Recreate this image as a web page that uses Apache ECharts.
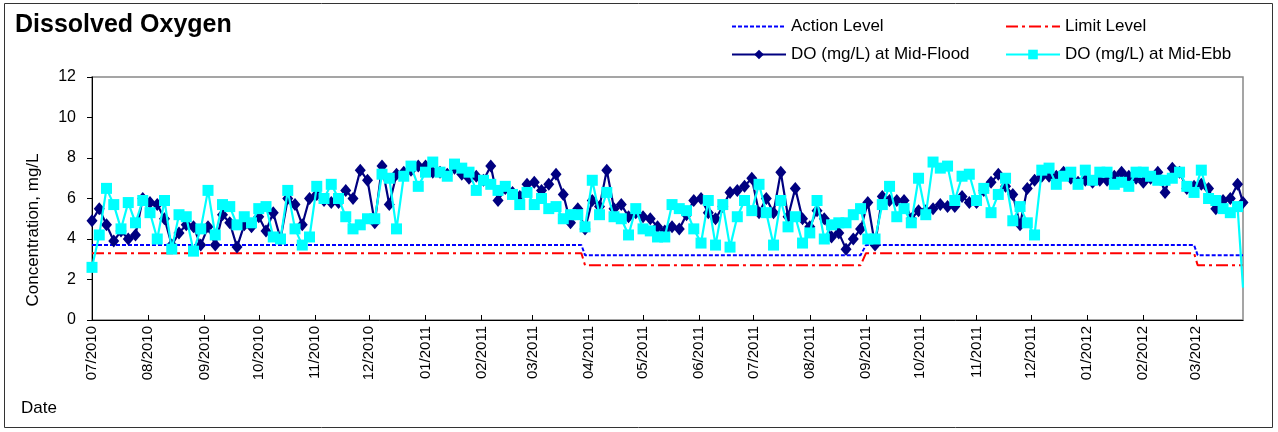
<!DOCTYPE html>
<html><head><meta charset="utf-8">
<script src="https://cdn.jsdelivr.net/npm/echarts@6/dist/echarts.min.js"></script>
<style>html,body{margin:0;padding:0;background:#fff}#c{width:1278px;height:432px}</style>
</head><body><div id="c"></div>
<script>
// Sampling dates (YYYY-MM-DD)
const dates = [
 '2010-07-01','2010-07-05','2010-07-09','2010-07-13','2010-07-17','2010-07-21','2010-07-25','2010-07-29',
 '2010-08-02','2010-08-06','2010-08-10','2010-08-14','2010-08-18','2010-08-22','2010-08-26','2010-08-30',
 '2010-09-03','2010-09-07','2010-09-11','2010-09-15','2010-09-19','2010-09-23','2010-09-27',
 '2010-10-01','2010-10-05','2010-10-09','2010-10-13','2010-10-17','2010-10-21','2010-10-25','2010-10-29',
 '2010-11-02','2010-11-06','2010-11-10','2010-11-14','2010-11-18','2010-11-22','2010-11-26','2010-11-30',
 '2010-12-04','2010-12-08','2010-12-12','2010-12-16','2010-12-20','2010-12-24','2010-12-28',
 '2011-01-01','2011-01-05','2011-01-09','2011-01-13','2011-01-17','2011-01-21','2011-01-25','2011-01-29',
 '2011-02-02','2011-02-06','2011-02-10','2011-02-14','2011-02-18','2011-02-22','2011-02-26',
 '2011-03-02','2011-03-06','2011-03-10','2011-03-14','2011-03-18','2011-03-22','2011-03-26','2011-03-30',
 '2011-04-03','2011-04-07','2011-04-11','2011-04-15','2011-04-19','2011-04-23','2011-04-27',
 '2011-05-01','2011-05-05','2011-05-09','2011-05-13','2011-05-17','2011-05-21','2011-05-25','2011-05-29',
 '2011-06-02','2011-06-06','2011-06-10','2011-06-14','2011-06-18','2011-06-22','2011-06-26','2011-06-30',
 '2011-07-04','2011-07-08','2011-07-12','2011-07-16','2011-07-20','2011-07-24','2011-07-28',
 '2011-08-01','2011-08-05','2011-08-09','2011-08-13','2011-08-17','2011-08-21','2011-08-25','2011-08-29',
 '2011-09-02','2011-09-06','2011-09-10','2011-09-14','2011-09-18','2011-09-22','2011-09-26','2011-09-30',
 '2011-10-04','2011-10-08','2011-10-12','2011-10-16','2011-10-20','2011-10-24','2011-10-28',
 '2011-11-01','2011-11-05','2011-11-09','2011-11-13','2011-11-17','2011-11-21','2011-11-25','2011-11-29',
 '2011-12-03','2011-12-07','2011-12-11','2011-12-15','2011-12-19','2011-12-23','2011-12-27','2011-12-31',
 '2012-01-04','2012-01-08','2012-01-12','2012-01-16','2012-01-20','2012-01-24','2012-01-28',
 '2012-02-01','2012-02-05','2012-02-09','2012-02-13','2012-02-17','2012-02-21','2012-02-25','2012-02-29',
 '2012-03-04','2012-03-08','2012-03-12','2012-03-16','2012-03-20','2012-03-24','2012-03-27'
];
// DO (mg/L) at Mid-Flood
const doFlood = [
 4.9,5.5,4.7,3.9,4.4,4.0,4.2,6.0,
 5.8,5.7,5.0,3.7,4.3,4.7,4.6,3.7,
 4.6,3.7,5.2,4.8,3.6,4.7,4.6,
 5.1,4.4,5.3,4.0,6.0,5.7,4.7,6.0,
 6.2,5.9,5.8,5.8,6.4,6.0,7.4,6.9,
 4.8,7.6,5.7,7.2,7.3,7.4,7.6,
 7.6,7.3,7.3,7.2,7.5,7.2,7.0,7.1,
 6.9,7.6,5.9,6.5,6.3,6.1,6.7,
 6.8,6.4,6.7,7.2,6.2,4.8,5.5,4.5,
 5.9,5.6,7.4,5.5,5.7,5.1,5.3,
 5.1,5.0,4.6,4.4,4.6,4.5,5.2,5.9,
 6.0,5.3,5.0,5.6,6.3,6.4,6.6,7.0,
 5.3,6.0,5.3,7.3,5.1,6.5,5.0,
 4.6,5.4,5.0,4.1,4.3,3.5,4.0,4.5,
 5.8,3.7,6.1,5.9,5.9,5.9,5.0,5.4,
 5.4,5.5,5.7,5.6,5.6,6.1,5.8,
 5.8,6.4,6.8,7.2,6.6,6.2,4.7,6.5,
 6.9,7.1,7.1,7.1,7.3,7.0,6.8,6.9,
 6.8,6.9,6.9,7.1,7.3,7.1,7.0,
 6.8,7.0,7.3,6.3,7.5,7.3,6.5,6.6,
 6.7,6.5,5.5,5.9,6.0,6.7,5.8
];
// DO (mg/L) at Mid-Ebb
const doEbb = [
 2.6,4.2,6.5,5.7,4.5,5.8,4.8,5.9,
 5.3,4.0,5.9,3.5,5.2,5.1,3.4,4.5,
 6.4,4.2,5.7,5.6,4.7,5.1,4.8,
 5.5,5.6,4.1,4.0,6.4,4.5,3.7,4.1,
 6.6,6.0,6.7,6.0,5.1,4.5,4.7,5.0,
 5.0,7.2,7.0,4.5,7.1,7.6,6.6,
 7.3,7.8,7.3,7.1,7.7,7.5,7.3,6.4,
 6.9,6.7,6.4,6.6,6.2,5.7,6.3,
 5.7,6.0,5.5,5.6,5.0,5.2,5.2,4.6,
 6.9,5.2,6.3,5.1,5.0,4.2,5.5,
 4.5,4.4,4.1,4.1,5.7,5.5,5.4,4.5,
 3.8,5.9,3.7,5.7,3.6,5.1,5.9,5.4,
 6.7,5.3,3.7,5.9,4.6,5.1,3.8,
 4.3,5.9,4.0,4.7,4.8,4.8,5.2,5.5,
 4.0,4.0,5.7,6.6,5.1,5.5,4.8,7.0,
 5.2,7.8,7.5,7.6,5.9,7.1,7.2,
 5.9,6.5,5.3,6.2,7.0,4.9,5.6,4.8,
 4.2,7.4,7.5,6.7,7.1,7.3,6.7,7.4,
 6.9,7.3,7.3,6.7,6.8,6.6,7.3,
 7.3,7.1,6.9,6.9,7.0,7.3,6.6,6.3,
 7.4,6.0,5.9,5.5,5.3,5.6,1.6
];
// Action / Limit levels
const levelDates  = ['2010-07-01','2011-03-28','2011-03-30','2011-08-29','2011-09-01','2012-02-29','2012-03-02','2012-03-27'];
const actionLevel = [3.7,3.7,3.2,3.2,3.7,3.7,3.2,3.2];
const limitLevel  = [3.3,3.3,2.7,2.7,3.3,3.3,2.7,2.7];
// Axis ticks
const monthTicks = ['2010-07-01','2010-08-01','2010-09-01','2010-10-01','2010-11-01','2010-12-01',
 '2011-01-01','2011-02-01','2011-03-01','2011-04-01','2011-05-01','2011-06-01','2011-07-01',
 '2011-08-01','2011-09-01','2011-10-01','2011-11-01','2011-12-01','2012-01-01','2012-02-01','2012-03-01'];
const xStart = '2010-07-01', xEnd = '2012-03-27';
const yMin = 0, yMax = 12, yStep = 2;

function ts(s){const p=s.split('-').map(Number);return new Date(p[0],p[1]-1,p[2]).getTime();}
function fmt(v){const d=new Date(v);const m=d.getMonth()+1;return (m<10?'0':'')+m+'/'+d.getFullYear();}
const FONT='"Liberation Sans", Arial, sans-serif';
const tickTs = monthTicks.map(ts);

const floodData = dates.map((d,i)=>[ts(d),doFlood[i]]);
const ebbData = dates.map((d,i)=> i===dates.length-1 ? {value:[ts(d),doEbb[i]],symbol:'none'} : [ts(d),doEbb[i]]);
const actionData = levelDates.map((d,i)=>[ts(d),actionLevel[i]]);
const limitData = levelDates.map((d,i)=>[ts(d),limitLevel[i]]);

const legendText = {fontFamily:FONT,fontSize:17,color:'#000'};
function lg(name,left,top,extra){
  return Object.assign({data:[name],left:left,top:top,itemWidth:54,itemHeight:12,padding:0,itemGap:0,
    selectedMode:false,textStyle:legendText},extra||{});
}

const chart = echarts.init(document.getElementById('c'));
chart.setOption({
  animation:false,
  backgroundColor:'#fff',
  title:{text:'Dissolved Oxygen',left:10,top:8,textStyle:{fontFamily:FONT,fontSize:25,fontWeight:'bold',color:'#000'}},
  grid:{left:92,right:35,top:77,bottom:112,show:true,borderColor:'#888',borderWidth:1.5,backgroundColor:'transparent'},
  legend:[
    lg('Action Level',731,18,{itemStyle:{opacity:0}}),
    lg('Limit Level',1005,18,{itemStyle:{opacity:0}}),
    lg('DO (mg/L) at Mid-Flood',731,46),
    lg('DO (mg/L) at Mid-Ebb',1005,46)
  ],
  xAxis:{type:'value',min:ts(xStart),max:ts(xEnd),scale:true,
    axisLine:{show:true,onZero:false,lineStyle:{color:'#000',width:1}},
    axisTick:{show:true,inside:true,length:5,customValues:tickTs,lineStyle:{color:'#000'}},
    axisLabel:{customValues:tickTs,rotate:90,margin:6,formatter:fmt,fontFamily:FONT,fontSize:15,color:'#000',showMinLabel:true,showMaxLabel:true},
    splitLine:{show:false}},
  yAxis:{type:'value',min:yMin,max:yMax,interval:yStep,
    axisLine:{show:true,lineStyle:{color:'#000',width:1}},
    axisTick:{show:true,length:5,lineStyle:{color:'#000'}},
    axisLabel:{margin:16,fontFamily:FONT,fontSize:16,color:'#000'},
    splitLine:{show:false}},
  series:[
    {name:'Action Level',type:'line',data:actionData,symbol:'none',
      lineStyle:{color:'#0000FF',width:2,type:[4,2]},itemStyle:{color:'#0000FF'},z:2},
    {name:'Limit Level',type:'line',data:limitData,symbol:'none',
      lineStyle:{color:'#FF0000',width:2,type:[12,4,3,4]},itemStyle:{color:'#FF0000'},z:2},
    {name:'DO (mg/L) at Mid-Flood',type:'line',data:floodData,symbol:'diamond',symbolSize:[11,13],
      lineStyle:{color:'#000080',width:2.2},itemStyle:{color:'#000080'},z:3},
    {name:'DO (mg/L) at Mid-Ebb',type:'line',data:ebbData,symbol:'rect',symbolSize:11,
      lineStyle:{color:'#00FFFF',width:2.2},itemStyle:{color:'#00FFFF'},z:4}
  ],
  graphic:[
    {type:'rect',shape:{x:4.5,y:3.5,width:1268,height:424},style:{fill:'none',stroke:'#333',lineWidth:1},z:-1,silent:true},
    {type:'text',left:21,top:400,style:{text:'Date',font:'17px '+FONT,fill:'#000'}},
    {type:'text',x:33,y:230,rotation:Math.PI/2,style:{text:'Concentration, mg/L',font:'17px '+FONT,fill:'#000',align:'center',verticalAlign:'middle'}}
  ]
});
</script>
</body></html>
